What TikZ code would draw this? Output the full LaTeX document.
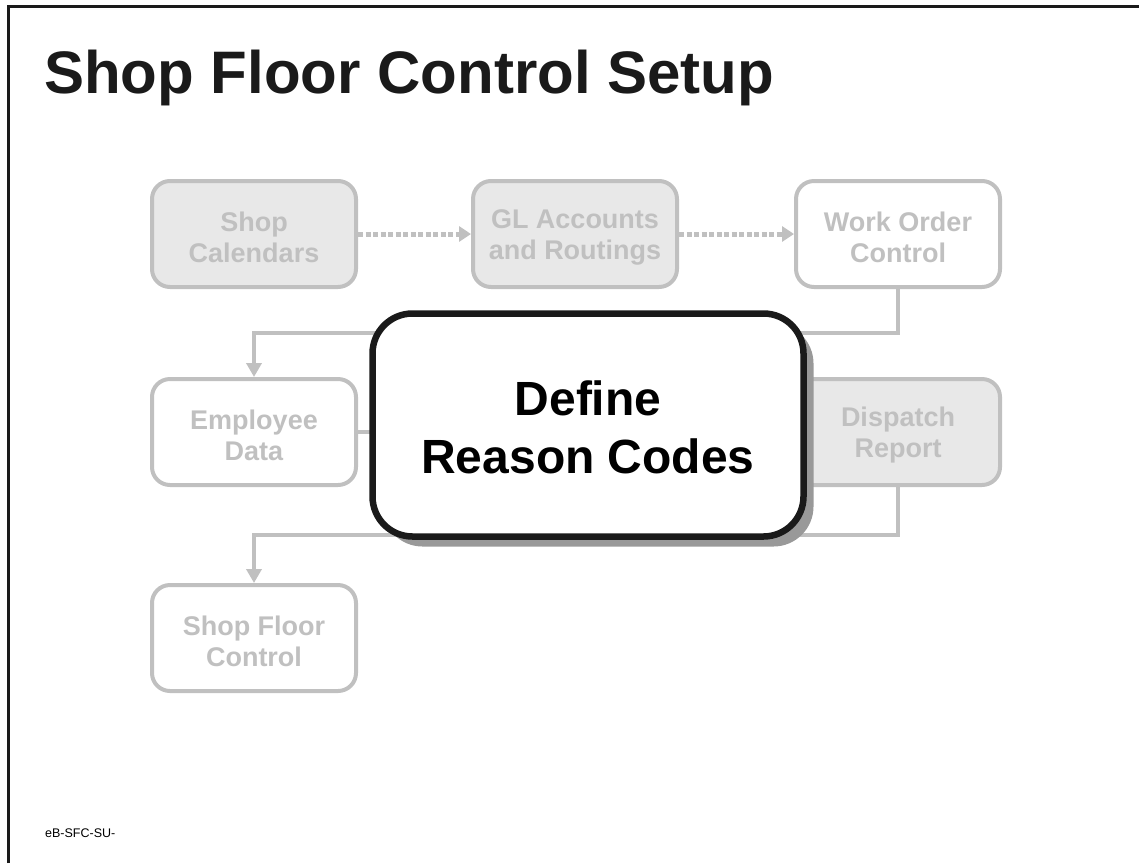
\documentclass[tikz,border=0pt]{standalone}
\usepackage{fontspec}
\setmainfont{Liberation Sans}
\usepackage{tikz}
\usetikzlibrary{arrows.meta,shadows}
\definecolor{boxgray}{HTML}{C0C0C0}
\definecolor{fillgray}{HTML}{E8E8E8}
\definecolor{inkblack}{HTML}{1A1A1A}
\definecolor{shadowgray}{HTML}{999999}

\begin{document}
\begin{tikzpicture}[x=1pt, y=-1pt,
    stepbox/.style={draw=boxgray, line width=4pt, rounded corners=18pt, minimum width=204pt, minimum height=106pt,
        align=center, text=boxgray, font=\fontsize{27}{31}\selectfont\bfseries, text height=57pt},
    donebox/.style={stepbox, fill=fillgray},
    todobox/.style={stepbox, fill=white},
    flow/.style={boxgray, line width=4pt, -{Triangle[length=14pt,width=15pt]}},
    link/.style={boxgray, line width=4pt},
    dotflow/.style={boxgray, line width=5pt, dash pattern=on 5pt off 2.5pt, -{Triangle[length=12pt,width=15pt]}},
    focusbox/.style={draw=inkblack, line width=6.5pt, rounded corners=40pt, fill=white, minimum width=431pt, minimum height=223pt,
        align=center, font=\fontsize{48}{58}\selectfont\bfseries, text height=97pt,
        drop shadow={shadow xshift=10pt, shadow yshift=-10pt, fill=shadowgray, opacity=1}}]
    \useasboundingbox (0,0) rectangle (1139,863);
    \draw[line width=3pt, inkblack] (8,863) -- (8,6) -- (1139,6);

    % Titolo e codice
    \node[anchor=base west, inner sep=0, text=inkblack, font=\fontsize{60}{72}\selectfont\bfseries] (title) at (44,93) {Shop Floor Control Setup};
    \node[anchor=base west, inner sep=0, font=\fontsize{12.5}{15}\selectfont] (code) at (45,837) {eB-SFC-SU-};

    % Passi
    \node[donebox] (cal) at (254,234) {Shop\\Calendars};
    \node[donebox] (gl) at (575,234) {GL Accounts\\and Routings};
    \node[todobox] (wo) at (898,234) {Work Order\\Control};
    \node[todobox] (emp) at (254,432) {Employee\\Data};
    \node[donebox] (disp) at (898,432) {Dispatch\\Report};
    \node[todobox] (sfc) at (254,638) {Shop Floor\\Control};

    % Collegamenti
    \coordinate (bendtop) at (254,333);
    \coordinate (bendbot) at (254,535);
    \coordinate (hub) at (472,432);
    \draw[dotflow] (cal.east) -- (gl.west);
    \draw[dotflow] (gl.east) -- (wo.west);
    \draw[flow] (wo.south) |- (bendtop) -- (emp.north);
    \draw[link] (emp.east) -- (hub);
    \draw[flow] (disp.south) |- (bendbot) -- (sfc.north);

    % Passo attuale
    \node[focusbox] (reason) at (588,425) {Define\\Reason Codes};
\end{tikzpicture}
\end{document}
